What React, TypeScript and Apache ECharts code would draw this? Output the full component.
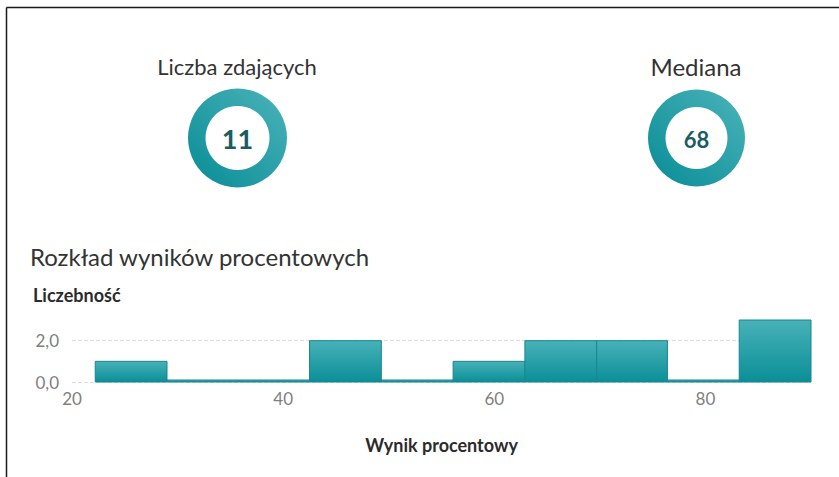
import React, { useEffect, useRef } from "react";
import * as echarts from "echarts";

const binStarts = [22.2, 29.0, 35.8, 42.5, 49.3, 56.1, 62.9, 69.7, 76.4, 83.2];
const binEnds = [29.0, 35.8, 42.5, 49.3, 56.1, 62.9, 69.7, 76.4, 83.2, 90];
const counts = [1, 0, 0, 2, 0, 1, 2, 2, 0, 3];
const kpiTitles = ["Liczba zdających", "Mediana"];
const kpiValues = ["11", "68"];

const FONT = "Lato, 'Open Sans', sans-serif";

function ringGrad() {
  return new echarts.graphic.LinearGradient(1, 0, 0, 1, [
    { offset: 0, color: "#4cb3ba" },
    { offset: 1, color: "#078c95" },
  ]);
}

export default function App() {
  const ref = useRef<HTMLDivElement>(null);
  useEffect(() => {
    const chart = echarts.init(ref.current!, null, { renderer: "svg" });
    const data = binStarts.map((s, i) => [s, binEnds[i], counts[i]]);
    chart.setOption({
      animation: false,
      backgroundColor: "#ffffff",
      grid: { left: 72, right: 28, top: 320, bottom: 95 },
      xAxis: {
        type: "value",
        min: 20,
        max: 90,
        interval: 20,
        name: "Wynik procentowy",
        nameLocation: "middle",
        nameGap: 54,
        nameTextStyle: { fontFamily: FONT, fontSize: 18, fontWeight: "bold", color: "#2b2b2b" },
        axisLine: { show: false },
        axisTick: { show: false },
        splitLine: { show: false },
        axisLabel: {
          showMaxLabel: false,
          fontFamily: FONT,
          fontSize: 17,
          color: "#808080",
          margin: 8,
        },
      },
      yAxis: {
        type: "value",
        min: 0,
        max: 3,
        interval: 2,
        axisLine: { show: false },
        axisTick: { show: false },
        splitLine: { show: true, showMaxLine: false, lineStyle: { type: "dashed", color: "#dddddd", width: 1 } },
        axisLabel: {
          showMaxLabel: false,
          fontFamily: FONT,
          fontSize: 17,
          color: "#808080",
          margin: 13,
          formatter: (v: number) => v.toFixed(1).replace(".", ","),
        },
      },
      series: [
        {
          type: "custom",
          data,
          encode: { x: [0, 1], y: 2 },
          renderItem: (params: any, api: any) => {
            const p0 = api.coord([api.value(0), 0]);
            const p1 = api.coord([api.value(1), api.value(2)]);
            let h = p0[1] - p1[1];
            let y = p1[1];
            if (h < 2) {
              h = 2;
              y = p0[1] - 2;
            }
            return {
              type: "rect",
              shape: { x: p0[0], y, width: p1[0] - p0[0], height: h },
              style: {
                fill: new echarts.graphic.LinearGradient(0, 0, 0, 1, [
                  { offset: 0, color: "#48b1b8" },
                  { offset: 1, color: "#0a8f97" },
                ]),
                stroke: "#17878f",
                lineWidth: 1,
              },
            };
          },
        },
      ],
      graphic: [
        { type: "line", shape: { x1: 6.5, y1: 7.5, x2: 839, y2: 7.5 }, style: { stroke: "#1a1a1a", lineWidth: 1.5 } },
        { type: "line", shape: { x1: 6.5, y1: 7.5, x2: 6.5, y2: 477 }, style: { stroke: "#1a1a1a", lineWidth: 1.5 } },
        {
          type: "text",
          x: 237,
          y: 66,
          style: { text: kpiTitles[0], fontFamily: FONT, fontSize: 22, fill: "#333", align: "center", verticalAlign: "middle" },
        },
        {
          type: "text",
          x: 696,
          y: 66,
          style: { text: kpiTitles[1], fontFamily: FONT, fontSize: 24, fill: "#333", align: "center", verticalAlign: "middle" },
        },
        { type: "ring", shape: { cx: 237.5, cy: 138, r: 49.5, r0: 32 }, style: { fill: ringGrad() } },
        { type: "ring", shape: { cx: 696.5, cy: 138, r: 48.5, r0: 31 }, style: { fill: ringGrad() } },
        {
          type: "text",
          x: 237.5,
          y: 138,
          style: { text: kpiValues[0], fontFamily: FONT, fontSize: 27, fontWeight: "bold", fill: "#1b5c63", align: "center", verticalAlign: "middle" },
        },
        {
          type: "text",
          x: 696.5,
          y: 139,
          style: { text: kpiValues[1], fontFamily: FONT, fontSize: 22, fontWeight: "bold", fill: "#1b5c63", align: "center", verticalAlign: "middle" },
        },
        {
          type: "text",
          x: 30,
          y: 256,
          style: { text: "Rozkład wyników procentowych", fontFamily: FONT, fontSize: 24, fill: "#333", align: "left", verticalAlign: "middle" },
        },
        {
          type: "text",
          x: 33,
          y: 295,
          style: { text: "Liczebność", fontFamily: FONT, fontSize: 18, fontWeight: "bold", fill: "#2b2b2b", align: "left", verticalAlign: "middle" },
        },
      ],
    });
    return () => chart.dispose();
  }, []);
  return (
    <div
      ref={ref}
      style={{ position: "absolute", left: 0, top: 0, width: 839, height: 477 }}
    />
  );
}
